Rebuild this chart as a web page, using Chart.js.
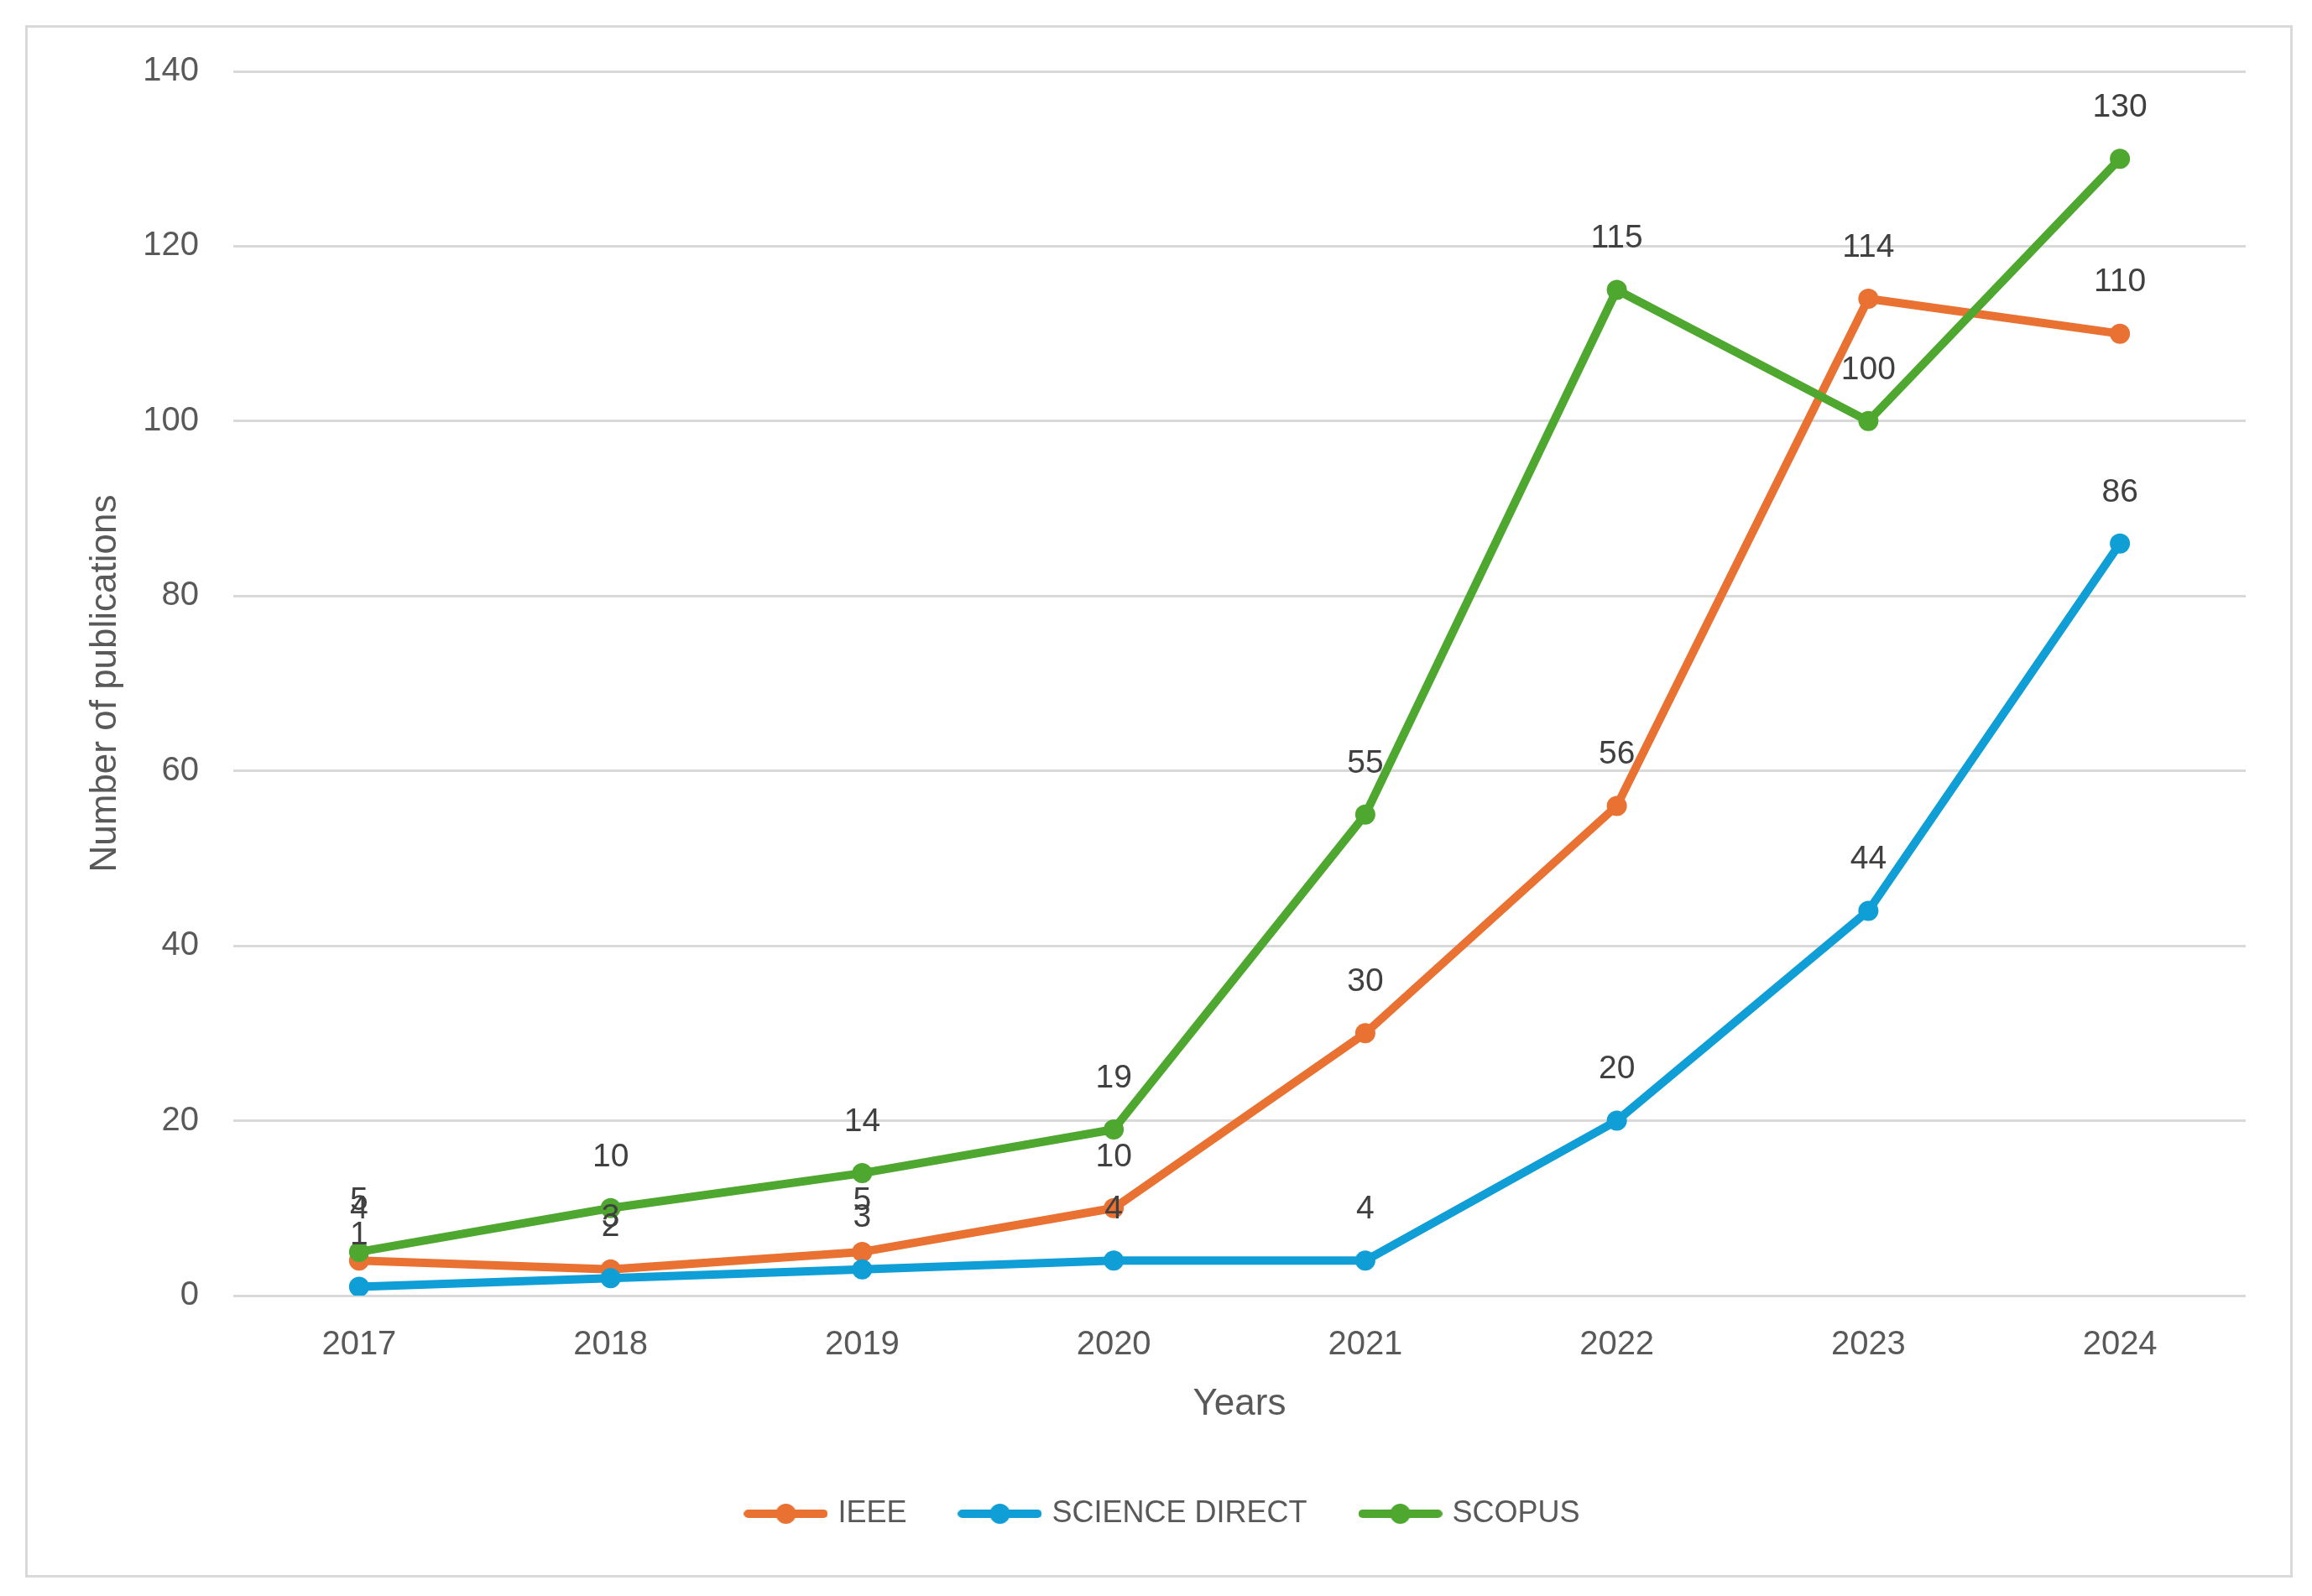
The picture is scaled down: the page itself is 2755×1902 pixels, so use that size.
<!DOCTYPE html>
<html>
<head>
<meta charset="utf-8">
<script src="https://cdn.jsdelivr.net/npm/chart.js@4/dist/chart.umd.min.js"></script>
<style>
  html, body { margin: 0; padding: 0; background: #fff; }
  #frame {
    position: absolute; left: 30px; top: 30px;
    width: 2702px; height: 1850px;
    border: 3px solid #d9d9d9; box-sizing: border-box;
    pointer-events: none;
  }
  #pubChart { position: absolute; left: 33px; top: 20px; display: block; }
</style>
</head>
<body>
<canvas id="pubChart" width="2696" height="1860"></canvas>
<div id="frame"></div>
<script>
var years = ["2017", "2018", "2019", "2020", "2021", "2022", "2023", "2024"];
var ieee = [4, 3, 5, 10, 30, 56, 114, 110];
var scienceDirect = [1, 2, 3, 4, 4, 20, 44, 86];
var scopus = [5, 10, 14, 19, 55, 115, 100, 130];
var seriesNames = ["IEEE", "SCIENCE DIRECT", "SCOPUS"];
var seriesColors = ["#E97132", "#0F9ED5", "#4EA72E"];

var FONT = "'Liberation Sans', Arial, sans-serif";

// legend marker: short line with a dot in the middle, like Excel
function legendMarker(color) {
  var c = document.createElement("canvas");
  c.width = 100; c.height = 28;
  var g = c.getContext("2d");
  g.strokeStyle = color;
  g.lineWidth = 10;
  g.lineCap = "round";
  g.beginPath();
  g.moveTo(5, 14); g.lineTo(95, 14);
  g.stroke();
  g.fillStyle = color;
  g.beginPath();
  g.arc(50, 14, 12, 0, Math.PI * 2);
  g.fill();
  return c;
}
var markers = seriesColors.map(legendMarker);

// value labels above each point
var valueLabels = {
  id: "valueLabels",
  afterDatasetsDraw: function (chart) {
    var ctx = chart.ctx;
    ctx.save();
    ctx.font = "39px " + FONT;
    ctx.fillStyle = "#404040";
    ctx.textAlign = "center";
    ctx.textBaseline = "middle";
    chart.data.datasets.forEach(function (ds, i) {
      chart.getDatasetMeta(i).data.forEach(function (pt, j) {
        ctx.fillText(ds.data[j], pt.x, pt.y - 61);
      });
    });
    ctx.restore();
  }
};

function makeSet(idx, values) {
  return {
    label: seriesNames[idx],
    data: values,
    borderColor: seriesColors[idx],
    backgroundColor: seriesColors[idx],
    pointBackgroundColor: seriesColors[idx],
    pointBorderColor: seriesColors[idx],
    borderWidth: 10,
    pointRadius: 12,
    pointBorderWidth: 0,
    borderJoinStyle: "round",
    borderCapStyle: "round",
    tension: 0,
    order: 2 - idx
  };
}

new Chart(document.getElementById("pubChart"), {
  type: "line",
  data: {
    labels: years,
    datasets: [makeSet(0, ieee), makeSet(1, scienceDirect), makeSet(2, scopus)]
  },
  options: {
    responsive: false,
    animation: false,
    devicePixelRatio: 1,
    layout: { padding: { left: 66, right: 53, top: 0, bottom: 48 } },
    plugins: {
      tooltip: { enabled: false },
      legend: {
        position: "bottom",
        labels: {
          usePointStyle: true,
          pointStyleWidth: 88,
          padding: 67,
          color: "#595959",
          font: { family: FONT, size: 36 },
          generateLabels: function (chart) {
            var items = Chart.defaults.plugins.legend.labels.generateLabels(chart);
            items.sort(function (a, b) { return a.datasetIndex - b.datasetIndex; });
            items.forEach(function (it) { it.pointStyle = markers[it.datasetIndex]; });
            return items;
          }
        }
      }
    },
    scales: {
      x: {
        offset: true,
        grid: { display: false, drawTicks: false },
        border: { display: false },
        ticks: { color: "#595959", font: { family: FONT, size: 40 }, padding: 35 },
        title: {
          display: true, text: "Years", color: "#595959",
          font: { family: FONT, size: 44 }, padding: { top: 0, bottom: 19 }
        },
        afterFit: function (s) { s.height = 175; }
      },
      y: {
        min: 0, max: 140,
        grid: { color: "#d9d9d9", lineWidth: 3, drawTicks: false },
        border: { display: false },
        ticks: { stepSize: 20, color: "#595959", font: { family: FONT, size: 40 }, padding: 41 },
        title: {
          display: true, text: "Number of publications", color: "#595959",
          font: { family: FONT, size: 44 }, padding: { top: 0, bottom: 0 }
        },
        afterFit: function (s) { s.width = 179; }
      }
    }
  },
  plugins: [valueLabels]
});
</script>
</body>
</html>
